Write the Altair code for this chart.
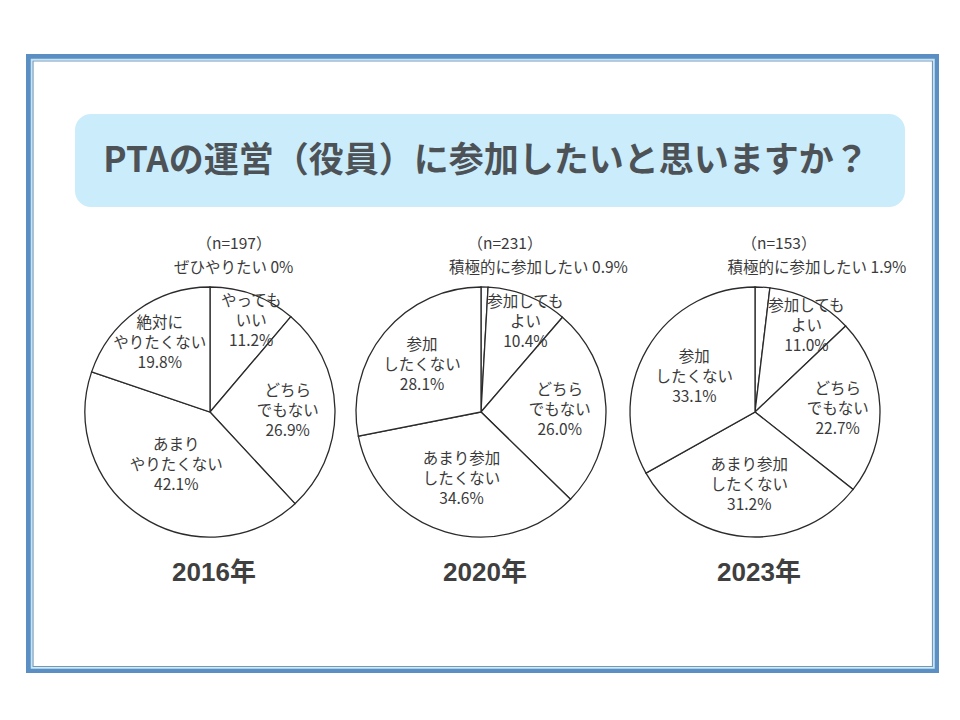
import altair as alt
import pandas as pd

# ---------------- data ----------------
title_text = "PTAの運営（役員）に参加したいと思いますか？"
years = ["2016年", "2020年", "2023年"]
sample_sizes = [197, 231, 153]

labels_2016 = ["ぜひやりたい", "やっても\nいい", "どちら\nでもない", "あまり\nやりたくない", "絶対に\nやりたくない"]
values_2016 = [0, 11.2, 26.9, 42.1, 19.8]

labels_2020 = ["積極的に参加したい", "参加しても\nよい", "どちら\nでもない", "あまり参加\nしたくない", "参加\nしたくない"]
values_2020 = [0.9, 10.4, 26.0, 34.6, 28.1]

labels_2023 = ["積極的に参加したい", "参加しても\nよい", "どちら\nでもない", "あまり参加\nしたくない", "参加\nしたくない"]
values_2023 = [1.9, 11.0, 22.7, 31.2, 33.1]

# ---------------- layout / style ----------------
PIE_X = [210, 481, 755]
PIE_Y = 412
PIE_R = 125
FONT = "Noto Sans CJK JP"
TEXT_COLOR = "#3a3a3a"
LINE_COLOR = "#2b2b2b"


def pct(v):
    return "0%" if v == 0 else f"{v:.1f}%"


one = pd.DataFrame({"k": [0]})


def rect(x1, x2, y1, y2, **kw):
    return alt.Chart(one).mark_rect(**kw).encode(
        x=alt.value(x1), x2=alt.value(x2), y=alt.value(y1), y2=alt.value(y2)
    )


layers = []
# frame
layers.append(rect(28.5, 936.5, 56.5, 670.5, fill="white", stroke="#5b8fc4", strokeWidth=5))
layers.append(rect(31.5, 934, 59.5, 668, filled=False, stroke="#c4e6f2", strokeWidth=1.5))
layers.append(rect(33, 932.5, 61, 666.5, filled=False, stroke="#7299bd", strokeWidth=1.2))
# title box
layers.append(rect(75, 905, 114, 207, fill="#cbecfa", cornerRadius=16))
layers.append(
    alt.Chart(pd.DataFrame({"t": [title_text]})).mark_text(
        font=FONT, fontSize=35, fontWeight="bold", color="#4d5257",
        align="center", baseline="middle",
    ).encode(x=alt.value(486), y=alt.value(161), text="t:N")
)

series = [(labels_2016, values_2016), (labels_2020, values_2020), (labels_2023, values_2023)]

for i, (labels, values) in enumerate(series):
    df = pd.DataFrame({"idx": list(range(len(values))), "value": values})
    df["inside"] = [""] + [f"{l}\n{pct(v)}" for l, v in zip(labels[1:], values[1:])]
    df["outside"] = [f"{labels[0]} {pct(values[0])}"] + [""] * (len(values) - 1)

    arc = alt.Chart(df).mark_arc(
        radius=PIE_R, fill="white", stroke=LINE_COLOR, strokeWidth=1.3
    ).encode(
        theta=alt.Theta("value:Q", stack=True),
        order=alt.Order("idx:Q"),
        x=alt.value(PIE_X[i]),
        y=alt.value(PIE_Y),
    )

    # mid-angle of each slice (radians, 0 = north, clockwise) computed from the data;
    # labels of narrow slices are nudged clockwise / outward so they clear the edges
    lab = alt.Chart(df).transform_window(
        cum="sum(value)", sort=[alt.SortField("idx")], frame=[None, 0]
    ).transform_joinaggregate(
        total="sum(value)"
    ).transform_calculate(
        mid="(datum.cum - datum.value / 2) / datum.total * 2 * PI",
    ).transform_calculate(
        la="datum.mid + (datum.value < 15 ? 0.07 : 0)",
        lr="max(62, 110 - 1.2 * datum.value) + (datum.value < 15 ? 4 : 0)",
    )
    inside = lab.mark_text(
        font=FONT, fontSize=15.5, color=TEXT_COLOR, lineBreak="\n", lineHeight=20,
        align="center", baseline="middle", dy=-19,
    ).encode(
        theta=alt.Theta("la:Q", scale=None),
        radius=alt.Radius("lr:Q", scale=None),
        x=alt.value(PIE_X[i]),
        y=alt.value(PIE_Y),
        text="inside:N",
    )
    outside = lab.mark_text(
        font=FONT, fontSize=15.5, color=TEXT_COLOR, radius=144, dx=-36,
        align="left", baseline="middle",
    ).encode(
        theta=alt.Theta("mid:Q", scale=None),
        x=alt.value(PIE_X[i]),
        y=alt.value(PIE_Y),
        text="outside:N",
    )
    layers += [arc, inside, outside]

    # sample size header
    layers.append(
        alt.Chart(pd.DataFrame({"t": [f"（n={sample_sizes[i]}）"]})).mark_text(
            font=FONT, fontSize=15.5, color=TEXT_COLOR, align="center", baseline="middle",
        ).encode(x=alt.value(PIE_X[i] + 24), y=alt.value(244), text="t:N")
    )
    # year label
    layers.append(
        alt.Chart(pd.DataFrame({"t": [years[i]]})).mark_text(
            font="'Liberation Sans', 'Noto Sans CJK JP', sans-serif",
            fontSize=26, fontWeight="bold", color="#3f3f3f",
            align="center", baseline="middle",
        ).encode(x=alt.value(PIE_X[i] + 4), y=alt.value(573), text="t:N")
    )

chart = (
    alt.layer(*layers)
    .resolve_scale(theta="independent")
    .properties(width=960, height=720, padding=0, autosize=alt.AutoSizeParams(type="none"),
                background="white")
    .configure_view(strokeWidth=0)
)

chart.save("out.html", embed_options={"renderer": "svg", "actions": False})
